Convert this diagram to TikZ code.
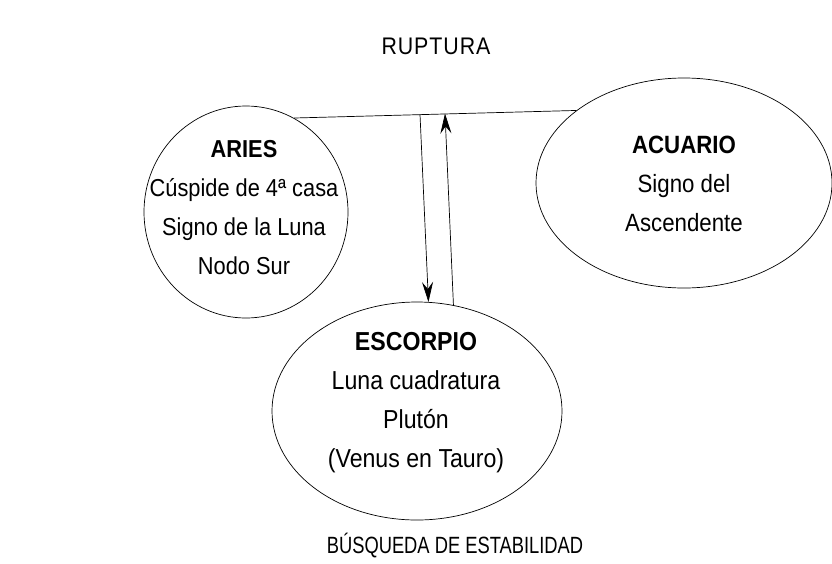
\documentclass[tikz,border=0pt]{standalone}
\usepackage{fontspec}
\setmainfont{Liberation Sans}
\newfontfamily\bodyfont{Liberation Sans}[FakeStretch=0.89]
\newfontfamily\narrowfont{Liberation Sans}[FakeStretch=0.78]
\usetikzlibrary{shapes.geometric,arrows.meta}
\begin{document}
\begin{tikzpicture}[x=1pt,y=-1pt,
  sign/.style={draw,ellipse,line width=0.7pt,inner sep=0pt},
  signtext/.style={align=center,inner sep=0pt,
    font=\bodyfont\fontsize{25}{39}\selectfont},
  captext/.style={font=\narrowfont\fontsize{23.5}{28}\selectfont},
  conn/.style={line width=0.7pt},
  arr/.style={conn,-{Stealth[length=20pt,width=11pt,inset=7pt]}}]
\useasboundingbox (0,0) rectangle (832,563);
\node[captext,font=\bodyfont\fontsize{24}{28}\selectfont] (rup) at (436,46)
  {\addfontfeature{LetterSpace=4}RUPTURA};
\node[captext] (bus) at (455,546) {BÚSQUEDA DE ESTABILIDAD};
\node[sign,minimum width=204pt,minimum height=212pt] (aries) at (246,212) {};
\node[sign,minimum width=296pt,minimum height=210pt] (acu) at (684,183) {};
\node[sign,minimum width=290pt,minimum height=218pt] (esc) at (417,411) {};
\node[signtext,font=\bodyfont\fontsize{24.5}{39}\selectfont] (ariesT) at (244,208)
  {\textbf{ARIES}\\Cúspide de 4ª casa\\Signo de la Luna\\Nodo Sur};
\node[signtext] (acuT) at (684,184)
  {\textbf{ACUARIO}\\Signo del\\Ascendente};
\node[signtext,font=\bodyfont\fontsize{26}{39}\selectfont] (escT) at (416,403)
  {\textbf{ESCORPIO}\\Luna cuadratura\\Plutón\\(Venus en Tauro)};
\coordinate (d1) at (420,114.5);
\coordinate (u1) at (445,113.5);
\draw[conn] (aries.63.7) -- (acu.146.4);
\draw[arr] (d1) -- (esc.84.8);
\draw[arr] (esc.71.7) -- (u1);
\end{tikzpicture}
\end{document}
